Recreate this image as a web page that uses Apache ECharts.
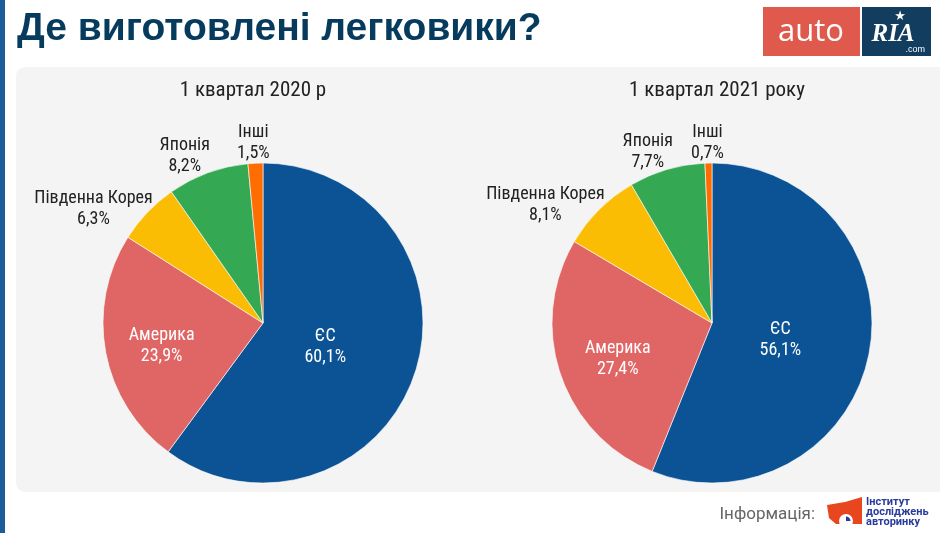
<!DOCTYPE html>
<html>
<head>
<meta charset="utf-8">
<script src="https://cdn.jsdelivr.net/npm/echarts@6/dist/echarts.min.js"></script>
<style>
html,body{margin:0;padding:0;background:#fff;}
#chart{width:940px;height:533px;}
</style>
</head>
<body>
<div id="chart"></div>
<script>
// ---- data ----
var categories = ['ЄС', 'Америка', 'Південна Корея', 'Японія', 'Інші'];
var values2020 = [60.1, 23.9, 6.3, 8.2, 1.5];
var values2021 = [56.1, 27.4, 8.1, 7.7, 0.7];
var pieTitles = ['1 квартал 2020 р', '1 квартал 2021 року'];
var mainTitle = 'Де виготовлені легковики?';
var sourceLabel = 'Інформація:';
var sourceOrg = ['Інститут', 'досліджень', 'авторинку'];

var colors = ['#0b5394', '#e06666', '#fbbc04', '#34a853', '#ff6d01'];
var FONT = "'Liberation Sans Narrow', 'Arial Narrow', 'Roboto Condensed', 'DejaVu Sans Condensed', sans-serif";

var pies = [
  {values: values2020, cx: 263, cy: 323, r: 160},
  {values: values2021, cx: 712, cy: 323, r: 160}
];

function fmt(v) { return v.toFixed(1).replace('.', ',') + '%'; }
function clamp(v, a, b) { return Math.max(a, Math.min(b, v)); }

function midAngle(vals, idx) {
  var total = vals.reduce(function (s, v) { return s + v; }, 0);
  var before = 0;
  for (var i = 0; i < idx; i++) before += vals[i];
  return (before + vals[idx] / 2) / total * Math.PI * 2; // clockwise from top
}

function makeLayout(p) {
  return function (params) {
    var i = params.dataIndex;
    var vals = p.values;
    var total = vals.reduce(function (s, v) { return s + v; }, 0);
    var pct = vals[i] / total;
    var a = midAngle(vals, i);
    var s = Math.sin(a), c = Math.cos(a);
    if (pct > 0.15) {
      var d = p.r * (0.8 - 0.65 * pct);
      return {x: p.cx + s * d, y: p.cy - c * d + 4, align: 'center', verticalAlign: 'middle'};
    }
    var g = p.r + 5;
    var ax = p.cx + s * g, ay = p.cy - c * g;
    var w = params.labelRect.width, h = params.labelRect.height;
    var fx = clamp(s * 2.5, -0.85, 0.85);
    var fy = clamp((c - 0.7) * 2.4, 0, 0.75);
    return {x: ax + fx * w / 2, y: ay - fy * h / 2, align: 'center', verticalAlign: 'middle'};
  };
}

var series = pies.map(function (p) {
  var total = p.values.reduce(function (s, v) { return s + v; }, 0);
  return {
    type: 'pie',
    center: [p.cx, p.cy],
    radius: p.r,
    startAngle: 90,
    clockwise: true,
    animation: false,
    silent: true,
    avoidLabelOverlap: false,
    itemStyle: {borderColor: '#ffffff', borderWidth: 0.6},
    labelLine: {show: false},
    label: {
      show: true,
      position: 'outside',
      fontFamily: FONT,
      fontSize: 18,
      lineHeight: 21,
      color: '#222222',
      formatter: function (prm) { return prm.name + '\n' + fmt(prm.value); }
    },
    labelLayout: makeLayout(p),
    data: categories.map(function (name, i) {
      var inside = p.values[i] / total > 0.15;
      return {
        name: name,
        value: p.values[i],
        itemStyle: {color: colors[i]},
        label: inside ? {color: '#ffffff'} : {}
      };
    })
  };
});

var chart = echarts.init(document.getElementById('chart'), null, {renderer: 'canvas'});
chart.setOption({
  backgroundColor: '#ffffff',
  animation: false,
  title: [
    {text: mainTitle, left: 12, top: 5,
     textStyle: {fontFamily: "'Liberation Sans', Arial, sans-serif", fontSize: 39, fontWeight: 'bold', color: '#073b5e'}},
    {text: pieTitles[0], left: 248, top: 75, textAlign: 'center',
     textStyle: {fontFamily: FONT, fontSize: 21, fontWeight: 'normal', color: '#222222'}},
    {text: pieTitles[1], left: 712, top: 75, textAlign: 'center',
     textStyle: {fontFamily: FONT, fontSize: 21, fontWeight: 'normal', color: '#222222'}}
  ],
  graphic: [
    {type: 'rect', z: -10, shape: {x: 0, y: 0, width: 5, height: 533}, style: {fill: '#1c5d99'}},
    {type: 'rect', z: -10, shape: {x: 16, y: 67, width: 940, height: 425, r: 9}, style: {fill: '#f4f4f4'}},
    // autoRIA logo
    {type: 'rect', shape: {x: 763, y: 7, width: 97, height: 49}, style: {fill: '#df5a4d'}},
    {type: 'text', style: {x: 811, y: 32, text: 'auto', fill: '#ffffff', font: "31px 'Open Sans', 'DejaVu Sans', sans-serif", align: 'center', verticalAlign: 'middle'}},
    {type: 'rect', shape: {x: 862, y: 7, width: 69, height: 49}, style: {fill: '#123d5f'}},
    {type: 'text', style: {x: 893, y: 35, text: 'RIA', fill: '#ffffff', font: "italic bold 25px 'Liberation Serif', 'DejaVu Serif', serif", align: 'center', verticalAlign: 'middle'}},
    {type: 'text', style: {x: 900, y: 17, text: '★', fill: '#ffffff', font: "13px 'DejaVu Sans', sans-serif", align: 'center', verticalAlign: 'middle'}},
    {type: 'text', style: {x: 925, y: 50, text: '.com', fill: '#ffffff', font: "9px 'Liberation Sans', sans-serif", align: 'right', verticalAlign: 'middle'}},
    // source
    {type: 'text', style: {x: 815, y: 515, text: sourceLabel, fill: '#666666', font: "17px 'Roboto', 'Liberation Sans', sans-serif", align: 'right', verticalAlign: 'middle'}},
    {type: 'polygon', shape: {points: [[827, 505], [845, 502], [862, 497], [862, 524], [836, 524], [829, 518]]}, style: {fill: '#e8461f'}},
    {type: 'circle', shape: {cx: 846, cy: 521, r: 7}, style: {fill: '#ffffff'}},
    {type: 'sector', shape: {cx: 846, cy: 521, r: 4.5, r0: 0, startAngle: -Math.PI / 2, endAngle: 0}, style: {fill: '#2a3b9e'}},
    {type: 'text', style: {x: 866, y: 502, text: sourceOrg[0], fill: '#2a3b9e', font: "bold 11px 'Roboto', 'Liberation Sans', sans-serif", verticalAlign: 'middle'}},
    {type: 'text', style: {x: 866, y: 512, text: sourceOrg[1], fill: '#2a3b9e', font: "bold 11px 'Roboto', 'Liberation Sans', sans-serif", verticalAlign: 'middle'}},
    {type: 'text', style: {x: 866, y: 522, text: sourceOrg[2], fill: '#2a3b9e', font: "bold 11px 'Roboto', 'Liberation Sans', sans-serif", verticalAlign: 'middle'}}
  ],
  series: series
});
</script>
</body>
</html>
